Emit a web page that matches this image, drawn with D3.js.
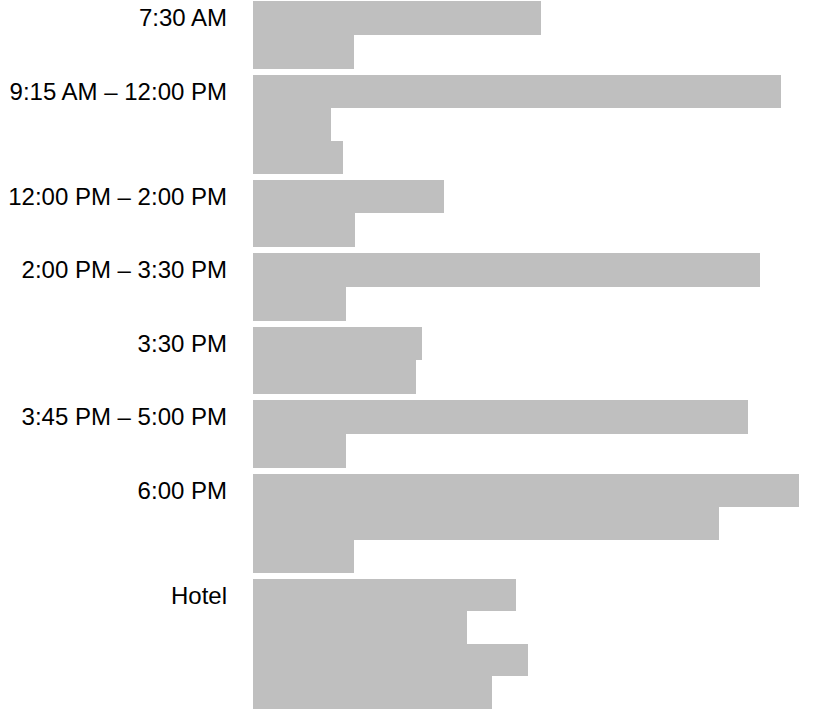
<!DOCTYPE html>
<html>
<head>
<meta charset="utf-8">
<script src="https://cdn.jsdelivr.net/npm/d3@7"></script>
<style>
  html, body { margin: 0; padding: 0; background: #fff; }
</style>
</head>
<body>
<div id="chart"></div>
<script>
// Schedule blocks: one label per time slot, several grey rows under each
const slotLabels = ["7:30 AM", "9:15 AM – 12:00 PM", "12:00 PM – 2:00 PM", "2:00 PM – 3:30 PM",
                    "3:30 PM", "3:45 PM – 5:00 PM", "6:00 PM", "Hotel"];
const rowSlot   = [0, 0, 1, 1, 1, 2, 2, 3, 3, 4, 4, 5, 5, 6, 6, 6, 7, 7, 7, 7];
const rowValues = [52.8, 18.6, 96.8, 14.3, 16.5, 35.0, 18.7, 92.9, 17.0, 31.0, 29.9,
                   90.7, 17.0, 100, 85.4, 18.5, 48.3, 39.2, 50.4, 43.9];

const width = 835, height = 709;
const barLeft = 253, barRight = 798.5;

const svg = d3.select("#chart").append("svg")
    .attr("width", width)
    .attr("height", height);

// vertical layout in "row units": each group = rows + small extra, groups separated by a gap
const groupExtra = 0.16, groupGap = 0.19;
const groups = slotLabels.map((label, i) => ({
    label: label,
    rows: rowSlot.filter(s => s === i).length
}));
let cursor = 0;
groups.forEach((g, i) => {
    g.start = cursor;
    g.size = g.rows + groupExtra;
    cursor += g.size + (i < groups.length - 1 ? groupGap : 0);
});

const y = d3.scaleLinear().domain([0, cursor]).range([1.3, 708.7]);
const x = d3.scaleLinear().domain([0, 100]).range([barLeft, barRight]);

// work out each row's position inside its group
const seen = {};
const rows = rowValues.map((v, i) => {
    const g = groups[rowSlot[i]];
    const k = seen[rowSlot[i]] = (seen[rowSlot[i]] || 0) + 1;
    const step = g.size / g.rows;
    return { value: v, y0: g.start + (k - 1) * step, y1: g.start + k * step };
});

// rounded edges so stacked rows butt together without seams
svg.append("g").selectAll("rect")
    .data(rows)
    .join("rect")
    .attr("x", Math.round(x(0)))
    .attr("y", d => Math.round(y(d.y0)))
    .attr("width", d => Math.round(x(d.value)) - Math.round(x(0)))
    .attr("height", d => Math.round(y(d.y1)) - Math.round(y(d.y0)))
    .attr("fill", "#bfbfbf")
    .attr("shape-rendering", "crispEdges");

svg.append("g").selectAll("text")
    .data(groups)
    .join("text")
    .attr("x", 227)
    .attr("y", d => y(d.start) + 25)
    .attr("text-anchor", "end")
    .attr("font-family", "'Liberation Sans', Arial, sans-serif")
    .attr("font-size", "24px")
    .attr("fill", "#000")
    .text(d => d.label);
</script>
</body>
</html>
